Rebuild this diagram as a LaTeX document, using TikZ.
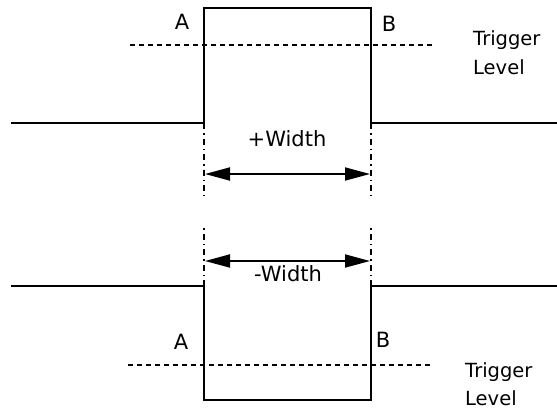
\documentclass[tikz,border=0pt]{standalone}
\usepackage{fontspec}
\setmainfont{DejaVu Sans}
\usetikzlibrary{arrows.meta}
\begin{document}
\begin{tikzpicture}[x=1pt,y=-1pt,
  sig/.style={line width=1.6pt},
  trig/.style={line width=1.2pt,dash pattern=on 5pt off 4pt},
  guide/.style={line width=1.2pt,dash pattern=on 6pt off 4pt on 1.5pt off 4pt},
  dim/.style={line width=1.8pt,{Triangle[length=25pt,width=13pt]}-{Triangle[length=25pt,width=13pt]}},
  lbl/.style={font=\fontsize{21}{25}\selectfont,inner sep=0pt},
  tl/.style={font=\fontsize{19.5}{29}\selectfont,inner sep=0pt,anchor=base west}]
\useasboundingbox (0,0) rectangle (557,410);
% top pulse
\coordinate (t0) at (11,123);
\coordinate (t1) at (204,123);
\coordinate (t2) at (204,8);
\coordinate (t3) at (371,8);
\coordinate (t4) at (371,123);
\coordinate (t5) at (557,123);
\draw[sig] (t0) -- (t1) -- (t2) -- (t3) -- (t4) -- (t5);
\coordinate (tl0) at (130,45);
\coordinate (tl1) at (432,45);
\draw[trig] (tl0) -- (tl1);
\coordinate (ga) at (204,196);
\coordinate (gb) at (371,196);
\draw[guide] (t1) -- (ga);
\draw[guide] (t4) -- (gb);
\coordinate (pa) at (205,174);
\coordinate (pb) at (370,174);
\draw[dim] (pa) -- (pb);
\node[lbl] (pw) at (287,139) {+Width};
\node[lbl] (ta) at (182,22) {A};
\node[lbl] (tb) at (389,24) {B};
\node[tl] (ttl1) at (473,45) {Trigger};
\node[tl] (ttl2) at (473,74) {Level};
% bottom pulse
\coordinate (b0) at (11,286);
\coordinate (b1) at (204,286);
\coordinate (b2) at (204,400);
\coordinate (b3) at (371,400);
\coordinate (b4) at (371,286);
\coordinate (b5) at (557,286);
\draw[sig] (b0) -- (b1) -- (b2) -- (b3) -- (b4) -- (b5);
\coordinate (bl0) at (128,365);
\coordinate (bl1) at (432,365);
\draw[trig] (bl0) -- (bl1);
\coordinate (gc) at (204,225);
\coordinate (gd) at (371,225);
\draw[guide] (b1) -- (gc);
\draw[guide] (b4) -- (gd);
\coordinate (pc) at (205,261);
\coordinate (pd) at (370,261);
\draw[dim] (pc) -- (pd);
\node[lbl] (nw) at (288,274) {-Width};
\node[lbl] (ba) at (181,342) {A};
\node[lbl] (bb) at (383,340) {B};
\node[tl] (btl1) at (465,377) {Trigger};
\node[tl] (btl2) at (465,405) {Level};
\end{tikzpicture}
\end{document}
